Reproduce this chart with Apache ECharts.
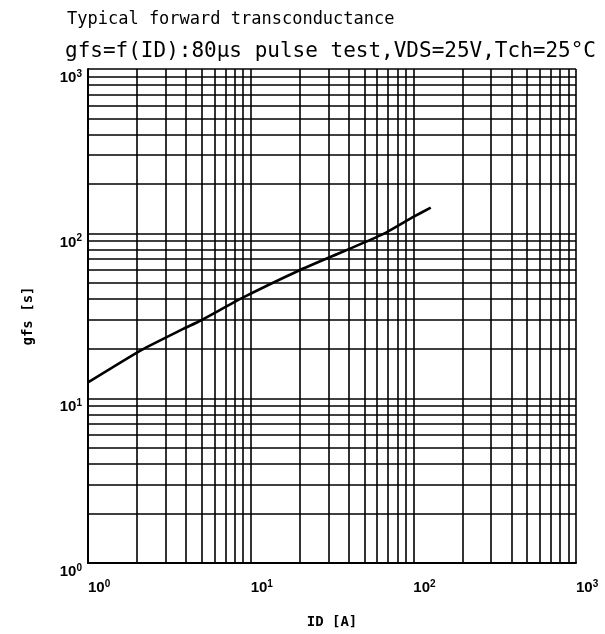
<!DOCTYPE html>
<html>
<head>
<meta charset="utf-8">
<script src="https://cdn.jsdelivr.net/npm/echarts@6/dist/echarts.min.js"></script>
<style>
  html, body { margin: 0; padding: 0; background: #fff; }
  #chart { width: 605px; height: 634px; }
</style>
</head>
<body>
<div id="chart"></div>
<script>
// drain current (A) vs forward transconductance (S)
const idValues = [1, 2.1, 3.85, 4.9, 9, 20, 35, 50, 68, 98, 128];
const gfsValues = [12.5, 19.5, 26.4, 29.6, 41, 60, 76, 88.5, 101.6, 125, 144];

// grid lines of the log paper: 1..9 in each decade
const gridValues = [
  1, 2, 3, 4, 5, 6, 7, 8, 9,
  10, 20, 30, 40, 50, 60, 70, 80, 90,
  100, 200, 300, 400, 500, 600, 700, 800, 900,
  1000,
];
const decadeLabels = { 1: '0', 10: '1', 100: '2', 1000: '3' };

const chart = echarts.init(document.getElementById('chart'), null, { renderer: 'canvas' });

const tickRich = {
  b: { fontFamily: 'Liberation Sans', fontWeight: 'bold', fontSize: 15, color: '#000' },
  s: { fontFamily: 'Liberation Sans', fontWeight: 'bold', fontSize: 10, color: '#000', verticalAlign: 'top', padding: [0, 0, 8, 0] },
};
const tickFormatter = v => {
  const e = decadeLabels[Math.round(v)];
  return e === undefined ? '' : `{b|10}{s|${e}}`;
};

const gridLine = { color: '#000', width: 1.6, type: 'solid' };

chart.setOption({
  animation: false,
  backgroundColor: '#fff',
  title: [
    {
      text: 'Typical forward transconductance',
      left: 62,
      top: 6,
      textStyle: { fontFamily: 'DejaVu Sans Mono', fontSize: 17, fontWeight: 'normal', color: '#000' },
    },
    {
      text: 'gfs=f(ID):80μs pulse test,VDS=25V,Tch=25°C',
      left: 60,
      top: 36,
      textStyle: { fontFamily: 'DejaVu Sans Mono', fontSize: 21, fontWeight: 'normal', color: '#000' },
    },
  ],
  grid: { left: 88, right: 29, top: 69, bottom: 69, containLabel: false },
  xAxis: {
    type: 'log',
    logBase: 10,
    min: 1,
    max: 1000,
    name: 'ID [A]',
    nameLocation: 'middle',
    nameGap: 52,
    nameTextStyle: { fontFamily: 'DejaVu Sans Mono', fontSize: 14, fontWeight: 'bold', color: '#000' },
    axisLine: { lineStyle: { color: '#000', width: 2 } },
    axisTick: { show: false },
    splitLine: { show: false },
    axisLabel: { formatter: tickFormatter, rich: tickRich, align: 'left', margin: 16 },
  },
  yAxis: {
    type: 'log',
    logBase: 10,
    min: 1,
    max: 1000,
    name: 'gfs [s]',
    nameLocation: 'middle',
    nameGap: 53,
    nameTextStyle: { fontFamily: 'DejaVu Sans Mono', fontSize: 14, fontWeight: 'bold', color: '#000' },
    axisLine: { lineStyle: { color: '#000', width: 2 } },
    axisTick: { show: false },
    splitLine: { show: false },
    axisLabel: { formatter: tickFormatter, rich: tickRich, margin: 6, verticalAlign: 'top' },
  },
  series: [
    {
      // log-paper grid, placed through the axes
      type: 'line',
      data: [],
      silent: true,
      markLine: {
        silent: true,
        symbol: 'none',
        label: { show: false },
        animation: false,
        lineStyle: gridLine,
        data: gridValues.map(v => ({ xAxis: v })).concat(gridValues.map(v => ({ yAxis: v }))),
      },
    },
    {
      type: 'line',
      data: idValues.map((x, i) => [x, gfsValues[i]]),
      showSymbol: false,
      smooth: 0.15,
      lineStyle: { color: '#000', width: 2.6 },
      z: 5,
    },
  ],
});
</script>
</body>
</html>
